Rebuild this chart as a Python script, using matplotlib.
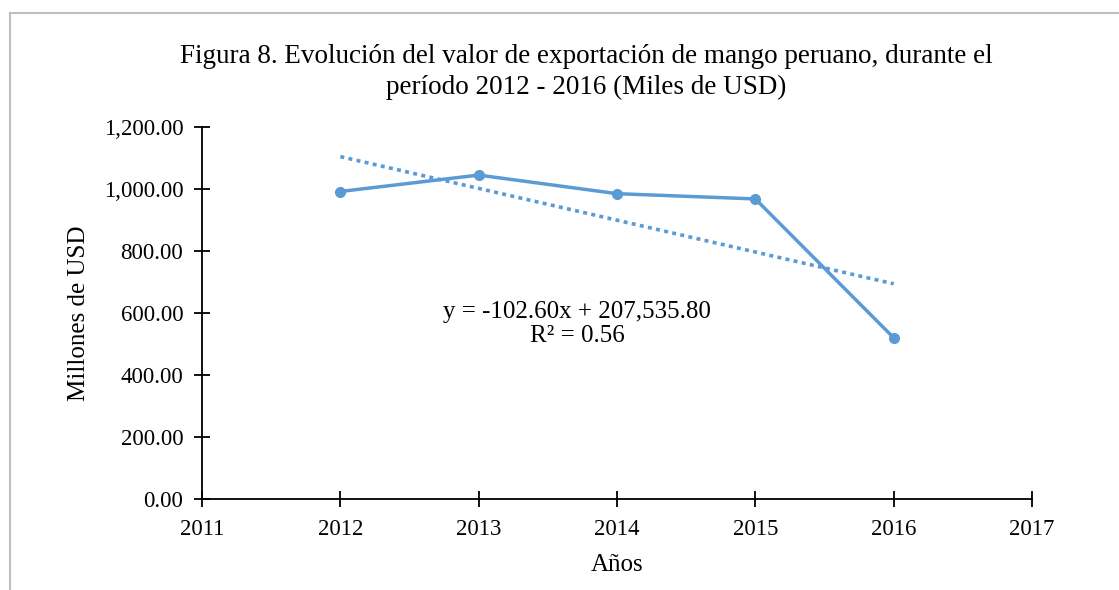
import matplotlib.pyplot as plt
import numpy as np
from matplotlib.ticker import FuncFormatter

# ======================================
# Data
# ======================================
years = [2012, 2013, 2014, 2015, 2016]
valor = [992.0, 1045.0, 985.0, 968.0, 520.0]

# linear trend, as printed on the chart
trend_slope = -102.60
trend_intercept = 207535.80
trend_r2 = 0.56

xticks = [2011, 2012, 2013, 2014, 2015, 2016, 2017]
yticks = [0, 200, 400, 600, 800, 1000, 1200]

title = ("Figura 8. Evolución del valor de exportación de mango peruano, durante el\n"
         "período 2012 - 2016 (Miles de USD)")

# ======================================
# Style
# ======================================
plt.rcParams.update({
    "font.family": ["Liberation Serif", "DejaVu Serif"],
    "font.size": 16,
})

blue = "#5B9BD5"

fig = plt.figure(figsize=(11.19, 5.90), dpi=100, facecolor="white")
ax = fig.add_axes([0.1805, 0.1542, 0.9223 - 0.1805, 0.7847 - 0.1542])

# outer chart border (only top/left visible in the crop)
fig.add_artist(plt.Line2D([10 / 1119, 10 / 1119], [0, 1 - 13 / 590],
                          transform=fig.transFigure, color="#BFBFBF", lw=1.5))
fig.add_artist(plt.Line2D([10 / 1119, 1], [1 - 13 / 590, 1 - 13 / 590],
                          transform=fig.transFigure, color="#BFBFBF", lw=1.5))

# series
ax.plot(years, valor, color=blue, linewidth=2.5, marker="o", markersize=7,
        zorder=3, clip_on=False)

# trend line
tx = np.array([years[0], years[-1]])
ty = trend_slope * tx + trend_intercept
ax.plot(tx, ty, color=blue, linewidth=2.6, linestyle=(0, (1.1, 1.2)),
        dash_capstyle="butt", zorder=2)

ax.text(2013.71, 565,
        f"y = {trend_slope:.2f}x + {trend_intercept:,.2f}\nR² = {trend_r2:.2f}",
        ha="center", va="center", multialignment="center", fontsize=18,
        linespacing=1.1)

ax.set_xlim(2011, 2017)
ax.set_ylim(0, 1200)
ax.set_xticks(xticks)
ax.set_yticks(yticks)
ax.yaxis.set_major_formatter(FuncFormatter(lambda v, p: f"{v:,.2f}"))

for s in ["top", "right"]:
    ax.spines[s].set_visible(False)
for s in ["left", "bottom"]:
    ax.spines[s].set_linewidth(1.3)
    ax.spines[s].set_color("black")

ax.tick_params(axis="both", direction="inout", length=11, width=1.3,
               labelsize=16.5)
ax.tick_params(axis="y", pad=8)
ax.tick_params(axis="x", pad=9)

ax.set_xlabel("Años", fontsize=18, labelpad=10)
ax.set_ylabel("Millones de USD", fontsize=18, labelpad=10)

fig.text(0.524, 1 - 72 / 590, title, ha="center", va="center",
         fontsize=19.5, linespacing=1.3)

fig.savefig("out.png", dpi=100, facecolor="white")
